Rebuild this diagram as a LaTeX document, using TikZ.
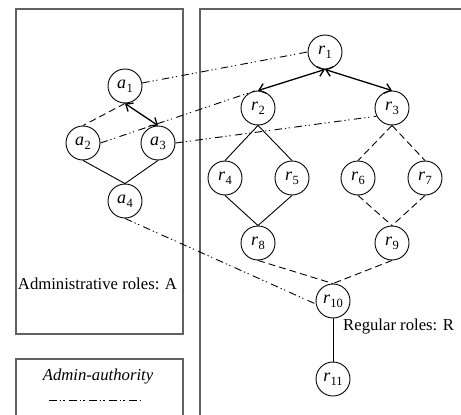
\documentclass[tikz,border=0pt]{standalone}
\usepackage{fontspec}
\setmainfont{Liberation Serif}
\usetikzlibrary{arrows.meta}
% role name: italic letter with a lowered index
\newcommand\rolename[2]{\textit{#1}\kern0.3pt\raisebox{-0.45ex}{\fontsize{12.5}{13}\selectfont #2}}
\begin{document}
\begin{tikzpicture}[x=1pt,y=-1pt,
  role/.style={circle,draw,line width=0.9pt,minimum size=34pt,inner sep=0pt,
    font=\fontsize{18}{20}\selectfont},
  frame/.style={draw=black!62,line width=1.4pt},
  inherit/.style={line width=0.9pt},
  weak/.style={line width=0.9pt,dash pattern=on 7pt off 4pt},
  authority/.style={line width=0.9pt,
    dash pattern=on 7.5pt off 3pt on 1.2pt off 2.6pt on 1.2pt off 4.5pt},
  mutual/.style={line width=1.3pt,
    {Straight Barb[length=6pt,width=10pt]}-{Straight Barb[length=6pt,width=10pt]}},
  caption/.style={font=\fontsize{16.7}{20}\selectfont,inner sep=0pt}
]
\useasboundingbox (0,0) rectangle (461,415);
\clip (0,0) rectangle (461,415);

% panels
\draw[frame] (16,9) rectangle (183,334);
\draw[frame] (16,359) rectangle (183,440);
\draw[frame] (200,9) rectangle (480,440);

% administrative roles
\node[role] (a1) at (125,86) {\rolename{a}{1}};
\node[role] (a2) at (83,143) {\rolename{a}{2}};
\node[role] (a3) at (158,143) {\rolename{a}{3}};
\node[role] (a4) at (125,201) {\rolename{a}{4}};

% regular roles
\node[role] (r1) at (325,52) {\rolename{r}{1}};
\node[role] (r2) at (258,108) {\rolename{r}{2}};
\node[role] (r3) at (392,108) {\rolename{r}{3}};
\node[role] (r4) at (225,178) {\rolename{r}{4}};
\node[role] (r5) at (292,178) {\rolename{r}{5}};
\node[role] (r6) at (358,178) {\rolename{r}{6}};
\node[role] (r7) at (425,178) {\rolename{r}{7}};
\node[role] (r8) at (258,243) {\rolename{r}{8}};
\node[role] (r9) at (392,243) {\rolename{r}{9}};
\node[role] (r10) at (333,301) {\rolename{r}{10}};
\node[role] (r11) at (333,379) {\rolename{r}{11}};

% captions
\node[caption,anchor=base] (capA) at (97.5,289) {Administrative roles: A};
\node[caption,anchor=base west] (capR) at (343,330) {Regular roles: R};
\node[caption,anchor=base] (capL) at (98,380) {\textit{Admin-authority}};

% legend sample
\coordinate (l1) at (49,400);
\coordinate (l2) at (143,400);
\draw[authority] (l1) -- (l2);

% hierarchy among administrative roles
\draw[weak] (a1.south) -- (a2.north);
\draw[mutual] (a1.south) -- (a3.north);
\draw[inherit] (a2.south) -- (a4.north);
\draw[inherit] (a3.south) -- (a4.north);

% hierarchy among regular roles
\draw[mutual] (r1.south) -- (r2.north);
\draw[mutual] (r1.south) -- (r3.north);
\draw[inherit] (r2.south) -- (r4.north);
\draw[inherit] (r2.south) -- (r5.north);
\draw[weak] (r3.south) -- (r6.north);
\draw[weak] (r3.south) -- (r7.north);
\draw[inherit] (r4.south) -- (r8.north);
\draw[inherit] (r5.south) -- (r8.north);
\draw[weak] (r6.south) -- (r9.north);
\draw[weak] (r7.south) -- (r9.north);
\draw[weak] (r8.south) -- (r10.north);
\draw[weak] (r9.south) -- (r10.north);
\draw[inherit] (r10.south) -- (r11.north);

% admin-authority links
\draw[authority] (a1.10) -- (r1.west);
\draw[authority] (a2.east) -- (r2.100);
\draw[authority] (a3.east) -- (r3.208);
\draw[authority] (a4.south) -- (r10.190);
\end{tikzpicture}
\end{document}
